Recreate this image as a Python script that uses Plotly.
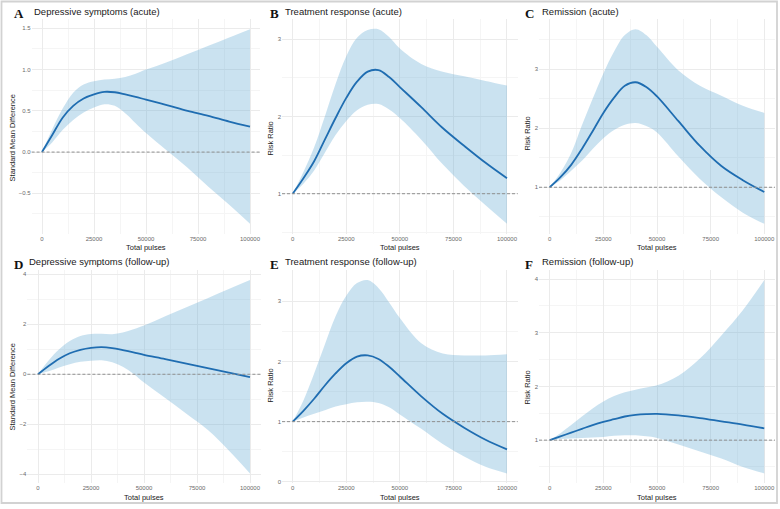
import plotly.graph_objects as go

# ---------------- data ----------------
pulses = [0, 5000, 10000, 15000, 20000, 25000, 30000, 35000, 40000, 45000,
          50000, 60000, 70000, 80000, 90000, 100000]

a_mean = [0, 0.21, 0.42, 0.56, 0.65, 0.70, 0.73, 0.725, 0.70, 0.67, 0.635, 0.57, 0.50, 0.44, 0.37, 0.31]
a_upper = [0, 0.28, 0.53, 0.72, 0.82, 0.86, 0.88, 0.89, 0.91, 0.95, 1.0, 1.09, 1.19, 1.29, 1.39, 1.49]
a_lower = [0, 0.12, 0.27, 0.39, 0.48, 0.54, 0.58, 0.56, 0.47, 0.35, 0.23, 0.02, -0.19, -0.42, -0.64, -0.87]

b_mean = [1.0, 1.2, 1.42, 1.70, 1.98, 2.24, 2.45, 2.58, 2.60, 2.51, 2.38, 2.12, 1.85, 1.62, 1.40, 1.20]
b_upper = [1.0, 1.28, 1.6, 2.0, 2.42, 2.78, 3.02, 3.12, 3.13, 3.03, 2.88, 2.68, 2.58, 2.52, 2.46, 2.40]
b_lower = [1.0, 1.13, 1.3, 1.53, 1.76, 1.94, 2.08, 2.15, 2.16, 2.09, 1.98, 1.70, 1.38, 1.10, 0.85, 0.61]

c_mean = [1.0, 1.17, 1.38, 1.65, 1.95, 2.26, 2.52, 2.72, 2.78, 2.70, 2.54, 2.12, 1.70, 1.36, 1.12, 0.92]
c_upper = [1.0, 1.25, 1.58, 2.05, 2.5, 2.93, 3.3, 3.58, 3.68, 3.58, 3.38, 2.98, 2.72, 2.55, 2.38, 2.26]
c_lower = [1.0, 1.12, 1.28, 1.45, 1.65, 1.83, 1.97, 2.06, 2.09, 2.04, 1.93, 1.52, 1.14, 0.83, 0.57, 0.38]

d_mean = [0, 0.33, 0.62, 0.84, 0.98, 1.06, 1.09, 1.05, 0.97, 0.88, 0.78, 0.61, 0.43, 0.25, 0.07, -0.11]
d_upper = [0, 0.55, 1.0, 1.33, 1.53, 1.61, 1.62, 1.6, 1.67, 1.8, 1.95, 2.32, 2.68, 3.04, 3.41, 3.77]
d_lower = [0, 0.12, 0.27, 0.4, 0.5, 0.54, 0.56, 0.48, 0.30, 0.02, -0.33, -0.95, -1.58, -2.22, -3.05, -3.97]

e_mean = [1.0, 1.18, 1.38, 1.6, 1.8, 1.97, 2.08, 2.10, 2.04, 1.91, 1.75, 1.42, 1.13, 0.9, 0.7, 0.54]
e_upper = [1.0, 1.35, 1.8, 2.28, 2.75, 3.09, 3.3, 3.35, 3.22, 2.98, 2.72, 2.3, 2.13, 2.1, 2.1, 2.12]
e_lower = [1.0, 1.07, 1.13, 1.19, 1.25, 1.29, 1.32, 1.33, 1.31, 1.24, 1.12, 0.88, 0.63, 0.42, 0.25, 0.14]

f_mean = [1.0, 1.07, 1.14, 1.21, 1.28, 1.34, 1.39, 1.44, 1.47, 1.485, 1.49, 1.46, 1.41, 1.35, 1.29, 1.22]
f_upper = [1.0, 1.13, 1.28, 1.44, 1.59, 1.72, 1.82, 1.89, 1.94, 1.98, 2.02, 2.2, 2.52, 2.95, 3.42, 3.98]
f_lower = [1.0, 1.02, 1.03, 1.04, 1.05, 1.06, 1.08, 1.09, 1.09, 1.07, 1.04, 0.92, 0.79, 0.66, 0.5, 0.38]

letters = ["A", "B", "C", "D", "E", "F"]
titles = ["Depressive symptoms (acute)", "Treatment response (acute)", "Remission (acute)",
          "Depressive symptoms (follow-up)", "Treatment response (follow-up)", "Remission (follow-up)"]
ytitles = ["Standard Mean Difference", "Risk Ratio", "Risk Ratio",
           "Standard Mean Difference", "Risk Ratio", "Risk Ratio"]
refs = [0, 1, 1, 0, 1, 1]
ydticks = [0.5, 1, 1, 2, 1, 1]
x_ticks = [0, 25000, 50000, 75000, 100000]

panels = [(a_mean, a_upper, a_lower), (b_mean, b_upper, b_lower), (c_mean, c_upper, c_lower),
          (d_mean, d_upper, d_lower), (e_mean, e_upper, e_lower), (f_mean, f_upper, f_lower)]

# ---------------- layout geometry (pixels) ----------------
W, H = 780, 509
xdom_px = [(31.6, 260.4), (282, 517.7), (539, 775), (27.4, 260.6), (282, 517.7), (539, 775)]
ydom_px = [(19.5, 234.5)] * 3 + [(271.5, 485)] * 3
letter_px = [(12, 14), (268, 14), (523, 14), (12, 266), (268, 266), (523, 266)]
title_px = [(32, 12), (283, 12), (540, 12), (27, 263), (283, 263), (540, 263)]
ytitle_px = [(12, 139), (270, 139), (527, 134), (12, 389), (270, 387), (527, 389)]
xtitle_py = [248, 248, 248, 499, 499, 499]

LINE = "#1f6db1"
FILL = "rgba(107,174,214,0.36)"
GRID = "#ebebeb"
MINOR = "#f5f5f5"

fig = go.Figure()
annotations = []
shapes = []

for i, (m, up, lo) in enumerate(panels):
    n = "" if i == 0 else str(i + 1)
    xa, ya = "x" + n, "y" + n
    fig.add_trace(go.Scatter(x=pulses, y=up, mode="lines",
                             line=dict(width=0, shape="spline", smoothing=1.0),
                             hoverinfo="skip", showlegend=False, xaxis=xa, yaxis=ya))
    fig.add_trace(go.Scatter(x=pulses, y=lo, mode="lines", fill="tonexty", fillcolor=FILL,
                             line=dict(width=0, shape="spline", smoothing=1.0),
                             hoverinfo="skip", showlegend=False, xaxis=xa, yaxis=ya))
    fig.add_trace(go.Scatter(x=pulses, y=m, mode="lines",
                             line=dict(color=LINE, width=1.8, shape="spline", smoothing=1.0),
                             showlegend=False, xaxis=xa, yaxis=ya))
    lo_v, hi_v = min(lo), max(up)
    pad = 0.05 * (hi_v - lo_v)
    x0, x1 = xdom_px[i]
    y0, y1 = ydom_px[i]
    common = dict(showline=False, zeroline=False, ticks="", gridcolor=GRID, gridwidth=0.8,
                  tickfont=dict(family="Liberation Sans, Arial", size=6, color="#6a6a6a"))
    fig.layout["xaxis" + n] = dict(domain=[x0 / W, x1 / W], anchor=ya, range=[-5000, 105000],
                                   tickvals=x_ticks, tickformat="d",
                                   minor=dict(dtick=12500, tick0=0, showgrid=True, gridcolor=MINOR, gridwidth=0.6),
                                   **common)
    fig.layout["yaxis" + n] = dict(domain=[1 - y1 / H, 1 - y0 / H], anchor=xa,
                                   range=[lo_v - pad, hi_v + pad], dtick=ydticks[i], tick0=0,
                                   tickformat=".1f" if i == 0 else "d",
                                   minor=dict(dtick=ydticks[i] / 2, tick0=0, showgrid=True, gridcolor=MINOR, gridwidth=0.6),
                                   **common)
    shapes.append(dict(type="line", xref=xa + " domain", yref=ya, x0=0, x1=1, y0=refs[i], y1=refs[i],
                       line=dict(color="#909090", width=1, dash="3px,2px"), layer="above"))
    lx, ly = letter_px[i]
    annotations.append(dict(text="<b>" + letters[i] + "</b>", x=lx / W, y=1 - ly / H, xref="paper", yref="paper",
                            xanchor="left", yanchor="middle", showarrow=False,
                            font=dict(family="Liberation Serif, Times New Roman", size=13, color="#111111")))
    tx, ty = title_px[i]
    annotations.append(dict(text=titles[i], x=tx / W, y=1 - ty / H, xref="paper", yref="paper",
                            xanchor="left", yanchor="middle", showarrow=False,
                            font=dict(family="Liberation Sans, Arial", size=9.5, color="#1a1a1a")))
    yx, yy = ytitle_px[i]
    annotations.append(dict(text=ytitles[i], x=yx / W, y=1 - yy / H, xref="paper", yref="paper",
                            xanchor="center", yanchor="middle", textangle=-90, showarrow=False,
                            font=dict(family="Liberation Sans, Arial", size=7.5, color="#1a1a1a")))
    annotations.append(dict(text="Total pulses", x=(x0 + x1) / 2 / W, y=1 - xtitle_py[i] / H,
                            xref="paper", yref="paper", xanchor="center", yanchor="middle", showarrow=False,
                            font=dict(family="Liberation Sans, Arial", size=7.5, color="#1a1a1a")))

shapes.append(dict(type="rect", xref="paper", yref="paper", x0=1.5 / W, x1=777 / W, y0=1 - 505 / H, y1=1 - 1.5 / H,
                   line=dict(color="#d2d2d2", width=1.8), layer="above"))

fig.update_layout(width=W, height=H, margin=dict(l=0, r=0, t=0, b=0),
                  paper_bgcolor="white", plot_bgcolor="white",
                  annotations=annotations, shapes=shapes)

fig.write_html("out.html")
